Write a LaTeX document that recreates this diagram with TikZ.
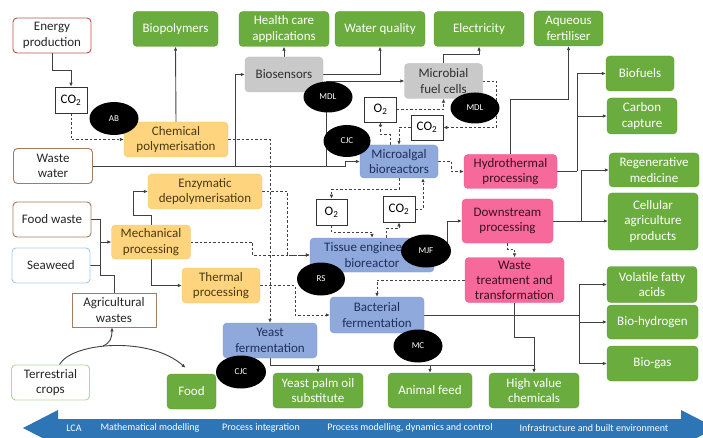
\documentclass[tikz,border=0pt]{standalone}
\usepackage{fontspec}
\setmainfont{Carlito}
\usetikzlibrary{arrows.meta,shapes.geometric,calc}
\pgfdeclarelayer{back}
\pgfdeclarelayer{bg}
\pgfsetlayers{back,bg,main}
\definecolor{gfill}{HTML}{6AAC3E}
\definecolor{gdraw}{HTML}{5E9C36}
\definecolor{ofill}{HTML}{FFD47F}
\definecolor{odraw}{HTML}{F7C66A}
\definecolor{otext}{HTML}{4A3A12}
\definecolor{bfill}{HTML}{8FA9DC}
\definecolor{bdraw}{HTML}{7F99CC}
\definecolor{btext}{HTML}{1F2F5A}
\definecolor{pfill}{HTML}{F8699B}
\definecolor{pdraw}{HTML}{EC5A8C}
\definecolor{ptext}{HTML}{3B1020}
\definecolor{yfill}{HTML}{C9C9C9}
\definecolor{ydraw}{HTML}{BBBBBB}
\definecolor{ytext}{HTML}{2E2E2E}
\definecolor{enred}{HTML}{C0504D}
\definecolor{brn}{HTML}{A57A60}
\definecolor{seab}{HTML}{A9CBE8}
\definecolor{crgreen}{HTML}{B5D69C}
\definecolor{lncol}{HTML}{404040}
\definecolor{arrowblue}{HTML}{2E75B6}
\tikzset{
  base/.style={rounded corners=4pt, align=center, inner sep=1pt, font=\fontsize{13}{15.5}\selectfont},
  gbox/.style={base, fill=gfill, draw=gdraw, text=white},
  obox/.style={base, fill=ofill, draw=odraw, text=otext},
  bbox/.style={base, fill=bfill, draw=bdraw, text=btext},
  pbox/.style={base, fill=pfill, draw=pdraw, text=ptext},
  ybox/.style={base, fill=yfill, draw=ydraw, text=ytext},
  sbox/.style={base, fill=white, line width=0.9pt, text=black!85},
  cbox/.style={draw=black!80, line width=0.6pt, fill=white, inner sep=1pt, align=center, font=\fontsize{13}{15.5}\selectfont},
  blob/.style={ellipse, fill=black, text=white, font=\fontsize{9}{10}\selectfont, inner sep=0pt},
  sz/.style n args={2}{minimum width=#1pt, minimum height=#2pt},
  ln/.style={draw=lncol, line width=0.9pt},
  arr/.style={ln, -{Latex[length=4pt,width=3.6pt]}},
  darr/.style={arr, dash pattern=on 2.5pt off 2pt},
  barlbl/.style={text=white, font=\fontsize{10}{11}\selectfont, inner sep=0pt},
}
\begin{document}
\begin{tikzpicture}[x=1pt,y=-1pt]
\useasboundingbox (0,0) rectangle (703,438);
\begin{pgfonlayer}{back}
\fill[white] (0,0) rectangle (703,438);
\end{pgfonlayer}

% sources
\node[sbox, draw=enred, sz={78}{35}] (energy) at (52,35.5) {Energy\\production};
\node[sbox, draw=brn, sz={79}{35}] (ww) at (53,166) {Waste\\water};
\node[sbox, draw=brn, sz={78}{35}] (fw) at (52,219.5) {Food waste};
\node[sbox, draw=seab, sz={78}{35}] (sw) at (51,265.5) {Seaweed};
\node[sbox, draw=brn, rounded corners=0pt, sz={84}{34}] (agri) at (114,310) {Agricultural\\wastes};
\node[sbox, draw=crgreen, sz={78}{35}] (terr) at (50.5,382.5) {Terrestrial\\crops};

% gas boxes
\node[cbox, sz={32}{26}] (co2a) at (71,100) {CO\textsubscript{2}};
\node[cbox, sz={32}{25}] (o2a) at (380.5,109.5) {O\textsubscript{2}};
\node[cbox, sz={32}{25}] (co2b) at (427,127.5) {CO\textsubscript{2}};
\node[cbox, sz={31}{26}] (o2b) at (331.5,212) {O\textsubscript{2}};
\node[cbox, sz={32}{26}] (co2c) at (399,209) {CO\textsubscript{2}};

% orange
\node[obox, sz={104}{35}] (chem) at (176,139.5) {Chemical\\polymerisation};
\node[obox, sz={114}{35}] (enz) at (205,191.5) {Enzymatic\\depolymerisation};
\node[obox, sz={79}{34}] (mech) at (151,242) {Mechanical\\processing};
\node[obox, sz={78}{35}] (thermal) at (221,285.5) {Thermal\\processing};

% gray
\node[ybox, sz={78}{35}] (biosens) at (284,74.5) {Biosensors};
\node[ybox, sz={78}{35}] (mfc) at (443.5,81) {Microbial\\fuel cells};

% blue
\node[bbox, sz={78}{33}] (micro) at (399,161.5) {Microalgal\\bioreactors};
\node[bbox, sz={124}{34}] (tissue) at (372,255) {Tissue engineered\\bioreactor};
\node[bbox, sz={94}{36}] (bact) at (377,315) {Bacterial\\fermentation};
\node[bbox, sz={94}{35}] (yeast) at (270,340.5) {Yeast\\fermentation};

% pink
\node[pbox, sz={93}{34}] (hydro) at (510.5,171.5) {Hydrothermal\\processing};
\node[pbox, sz={91}{44}] (down) at (507.5,221) {Downstream\\processing};
\node[pbox, sz={99}{45}, font=\fontsize{13}{15}\selectfont] (wastet) at (514.5,280) {Waste\\treatment and\\transformation};

% green
\node[gbox, sz={85}{35}] (biopoly) at (175.5,29) {Biopolymers};
\node[gbox, sz={90}{35}] (health) at (284,29) {Health care\\applications};
\node[gbox, sz={90}{35}] (waterq) at (380,29) {Water quality};
\node[gbox, sz={90}{35}] (elec) at (479,29) {Electricity};
\node[gbox, sz={69}{35}] (aqueous) at (568.5,28.5) {Aqueous\\fertiliser};
\node[gbox, sz={68}{35}] (biofuels) at (640,73.5) {Biofuels};
\node[gbox, sz={70}{36}] (carbon) at (642,116) {Carbon\\capture};
\node[gbox, sz={90}{34}] (regen) at (654,170) {Regenerative\\medicine};
\node[gbox, sz={90}{57}] (cellular) at (653,221.5) {Cellular\\agriculture\\products};
\node[gbox, sz={90}{36}] (vfa) at (652,284.5) {Volatile fatty\\acids};
\node[gbox, sz={91}{34}] (bioh) at (652.5,322) {Bio-hydrogen};
\node[gbox, sz={91}{35}] (biogas) at (652.5,363.5) {Bio-gas};
\node[gbox, sz={90}{35}] (hvc) at (534,390.5) {High value\\chemicals};
\node[gbox, sz={84}{35}] (animal) at (430,390.5) {Animal feed};
\node[gbox, sz={90}{35}] (palm) at (318,390.5) {Yeast palm oil\\substitute};
\node[gbox, sz={49}{35}] (food) at (191.5,391.5) {Food};

% author blobs
\node[blob, sz={49}{33}] (bAB) at (114,118.5) {AB};
\node[blob, sz={49}{31}] (bMDLa) at (328,97) {MDL};
\node[blob, sz={49}{31}] (bMDLb) at (475,108) {MDL};
\node[blob, sz={47}{32}] (bCJCa) at (347,141) {CJC};
\node[blob, sz={50}{33}] (bMJF) at (426,251) {MJF};
\node[blob, sz={48}{33}] (bRS) at (321,279) {RS};
\node[blob, sz={49}{33}] (bMC) at (418,346) {MC};
\node[blob, sz={50}{33}] (bCJCb) at (241,372) {CJC};

% junctions
\coordinate (j1) at (235,166);
\coordinate (j2) at (326,166);
\coordinate (j3) at (577,171.5);
\coordinate (j4) at (581,221);
\coordinate (j5) at (579,315);
\coordinate (jm) at (100,242);
\coordinate (yb) at (270,365);
\coordinate (tb) at (103,346);

\begin{pgfonlayer}{bg}
% solid connectors
\draw[arr] (energy.south) -- ++(0,17) -| (co2a.north);
\draw[arr] (chem.north) -- (biopoly.south);
\draw[arr] (ww.east) -- (345,166) |- (micro.west);
\draw[arr] (j1) |- (biosens.west);
\draw[arr] (j2) |- (mfc.west);
\draw[arr] (biosens.north) -- (health.south);
\draw[arr] (biosens.east) -| (waterq.south);
\draw[arr] (mfc.north) -- ++(0,-9) -| (elec.south);
\draw[arr] (hydro.north) -- ++(0,-55) -| (aqueous.south);
\draw[ln] (hydro.east) -- (j3);
\draw[arr] (j3) |- (biofuels.west);
\draw[arr] (j3 |- carbon.west) -- (carbon.west);
\draw[arr] (down.east) -- (down.east -| cellular.west);
\draw[arr] (j4) |- (regen.west);
\draw[arr] (tissue.east) -- ++(13,0) |- (down.west);
\draw[arr] (wastet.south) -- ++(0,35) -| (hvc.north);
\draw[ln] (bact.east) -- (j5);
\draw[arr] (j5) |- (vfa.west);
\draw[arr] (j5) |- (biogas.west);
\draw[arr] (j5 |- bioh.west) -- (bioh.west);
\draw[ln] (yeast.south) -- (yb) -- (yb -| hvc.north);
\draw[arr] (yb -| palm.north) -- (palm.north);
\draw[arr] (yb -| animal.north) -- (animal.north);
\draw[ln] (fw.east) -| (jm);
\draw[ln] (sw.east) -| (jm);
\draw[ln] (agri.north) -- ++(0,-17) -| (jm);
\draw[arr] (jm) -- (mech.west);
\draw[arr] (mech.north) |- (133,215) |- (enz.west);
\draw[arr] (mech.south) |- (thermal.west);
\draw[arr] ([xshift=9pt]terr.north) .. controls (72,342) and (150,336) .. ([shift={(-6,-6)}]food.north);
\draw[arr] (tb) .. controls (110,343) and (112,338) .. ([xshift=-2pt]agri.south);

% dashed connectors
\draw[darr] (co2a.south) |- (chem.west);
\draw[darr] (chem.east) -| (yeast.north);
\draw[darr] (o2a.east) -| (mfc.south);
\draw[darr] (mfc.east) -- ++(14,0) |- (co2b.east);
\draw[darr] ([xshift=-9pt]micro.north) -- ++(0,-10) -| (o2a.south);
\draw[darr] (co2b.west) -| (micro.north);
\draw[darr] (micro.south) -- ++(0,11) -| (o2b.north);
\draw[darr] (co2c.east) -| ([xshift=24pt]micro.south);
\draw[darr] (o2b.south) -- ++(0,7) -| (tissue.north);
\draw[darr] ([xshift=14pt]tissue.north) -- ++(0,-9) -| (co2c.south);
\draw[darr] (micro.east) -- ++(13,0) |- (hydro.west);
\draw[darr] (down.south) -- ++(0,6) -| (wastet.north);
\draw[darr] (wastet.west) -| (bact.north);
\draw[darr] (mech.east) -- ++(62,0) |- (tissue.west);
\draw[darr] (enz.east) -- ++(25,0) |- (tissue.west);
\draw[darr] (thermal.east) -- ++(35,0) |- (bact.west);
\end{pgfonlayer}

% bottom arrow
\begin{scope}
\clip (0,0) rectangle (703,438);
\fill[arrowblue] (23,428) -- (58,410) -- (58,419) -- (681,419) -- (681,410) -- (716,428) -- (681,446) -- (681,438) -- (58,438) -- (58,446) -- cycle;
\end{scope}
\node[barlbl] (l1) at (74,428) {LCA};
\node[barlbl] (l2) at (150,428) {Mathematical modelling};
\node[barlbl] (l3) at (261,428) {Process integration};
\node[barlbl] (l4) at (410,428) {Process modelling, dynamics and control};
\node[barlbl] (l5) at (594,428) {Infrastructure and built environment};
\end{tikzpicture}
\end{document}
